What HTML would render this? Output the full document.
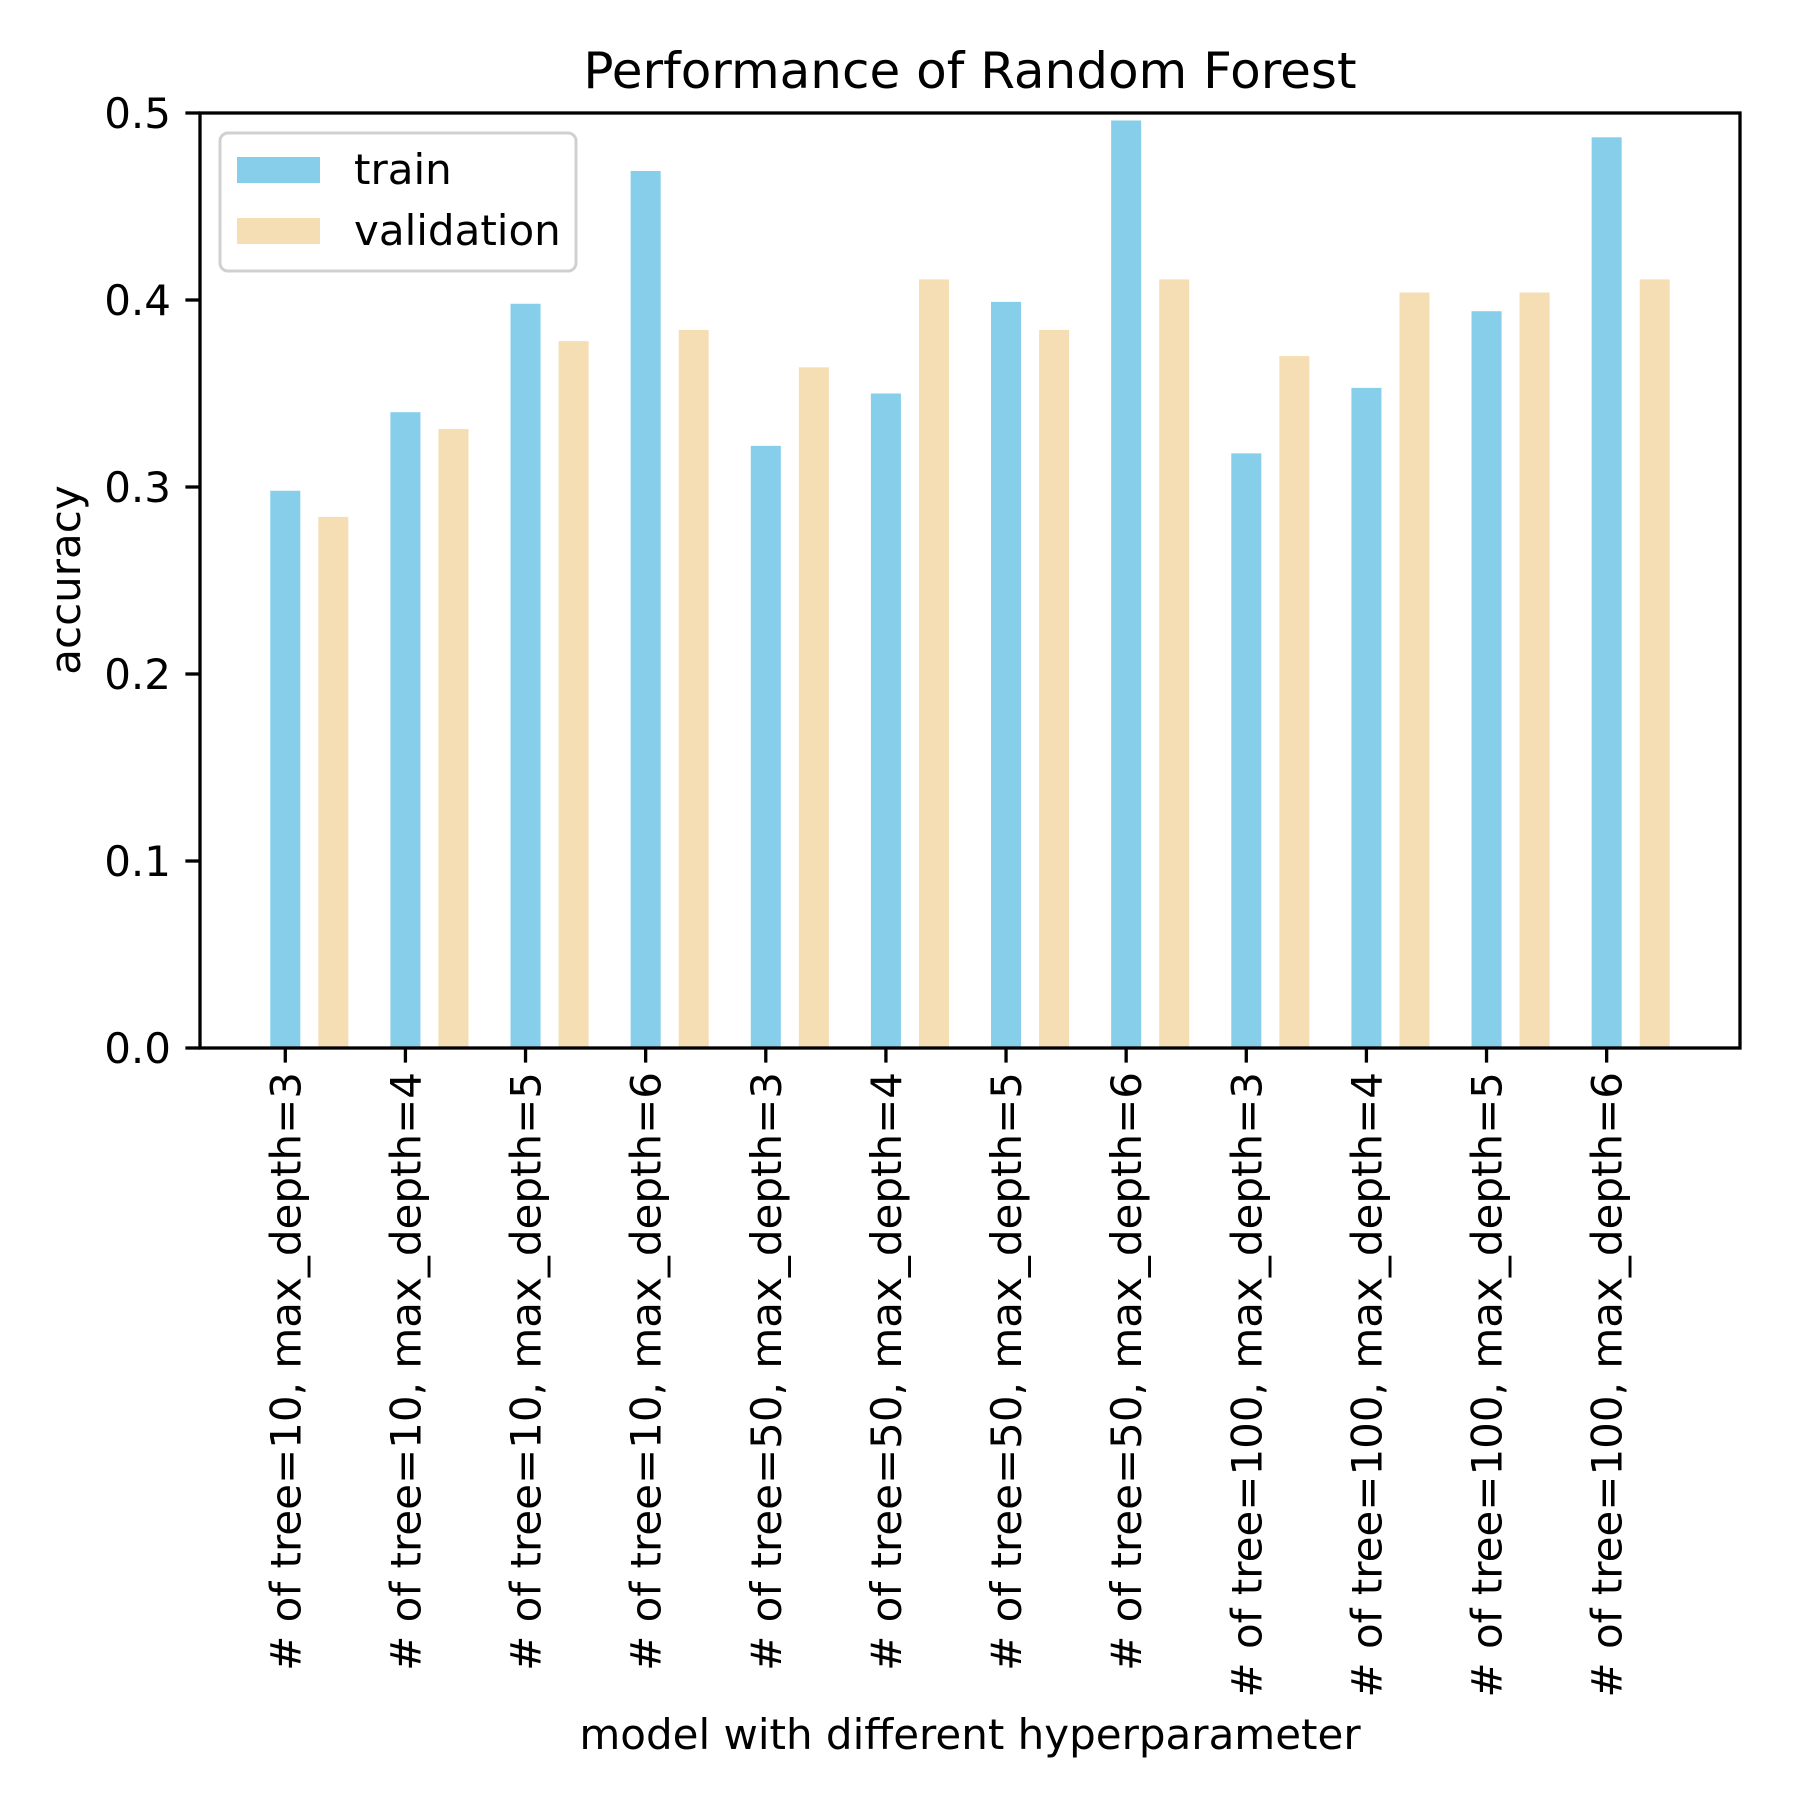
<!DOCTYPE html>
<html><head><meta charset="utf-8"><style>
html,body{margin:0;padding:0;background:#fff;}
svg{display:block;font-family:"DejaVu Sans","Liberation Sans",sans-serif;}
</style></head><body>
<svg id="chart" width="1800" height="1800" viewBox="0 0 1800 1800" xmlns="http://www.w3.org/2000/svg">
<rect width="1800" height="1800" fill="#fff"/>
<text x="970" y="88" font-size="50" text-anchor="middle">Performance of Random Forest</text>
<g id="bars"></g>
<g id="axes"></g>
<g>
<rect x="220" y="133" width="356" height="138" rx="8" fill="#fff" fill-opacity="0.8" stroke="#d0d0d0" stroke-width="3"/>
<rect x="237" y="157" width="83" height="26" fill="#87CEEB"/>
<text x="354" y="184" font-size="42">train</text>
<rect x="237" y="218" width="83" height="26" fill="#F5DEB3"/>
<text x="354" y="245" font-size="42">validation</text>
</g>
<text transform="translate(80,580) rotate(-90)" font-size="42" text-anchor="middle">accuracy</text>
<text x="970" y="1749" font-size="42" text-anchor="middle">model with different hyperparameter</text>
</svg>
<script>
const categories = ["# of tree=10, max_depth=3","# of tree=10, max_depth=4","# of tree=10, max_depth=5","# of tree=10, max_depth=6","# of tree=50, max_depth=3","# of tree=50, max_depth=4","# of tree=50, max_depth=5","# of tree=50, max_depth=6","# of tree=100, max_depth=3","# of tree=100, max_depth=4","# of tree=100, max_depth=5","# of tree=100, max_depth=6"];
const trainValues = [0.298,0.340,0.398,0.469,0.322,0.350,0.399,0.496,0.318,0.353,0.394,0.487];
const validationValues = [0.284,0.331,0.378,0.384,0.364,0.411,0.384,0.411,0.370,0.404,0.404,0.411];
const yTicks = [0.0,0.1,0.2,0.3,0.4,0.5];
const yTickLabels = ["0.0","0.1","0.2","0.3","0.4","0.5"];

const NS="http://www.w3.org/2000/svg";
const L=200,R=1740,T=113,B=1048;
const xMin=-0.71,xMax=12.11,yMin=0,yMax=0.5;
function xs(v){return L+(v-xMin)/(xMax-xMin)*(R-L);}
function ys(v){return B-(v-yMin)/(yMax-yMin)*(B-T);}
function mk(tag,attrs,parent){const e=document.createElementNS(NS,tag);for(const k in attrs)e.setAttribute(k,attrs[k]);parent.appendChild(e);return e;}
const bars=document.getElementById('bars'),axes=document.getElementById('axes');
const bw=0.25,off=0.4;
categories.forEach((c,i)=>{
  let x0=xs(i-bw/2),x1=xs(i+bw/2);
  const b1=mk('rect',{x:x0,y:ys(trainValues[i]),width:x1-x0,height:ys(0)-ys(trainValues[i]),fill:'#87CEEB'},bars);
  
  
  x0=xs(i+off-bw/2);x1=xs(i+off+bw/2);
  const b2=mk('rect',{x:x0,y:ys(validationValues[i]),width:x1-x0,height:ys(0)-ys(validationValues[i]),fill:'#F5DEB3'},bars);
  
  
  const tx=xs(i);
  const tk=mk('line',{x1:tx,x2:tx,y1:B,y2:B+14.6,stroke:'#000','stroke-width':3.3},axes);
  
  
  const t=mk('text',{transform:'translate('+(tx+15)+','+(B+24)+') rotate(-90)','font-size':42,'text-anchor':'end'},axes);
  t.textContent=c;
  
  
});
yTicks.forEach((v,i)=>{
  const y=ys(v);
  const tk=mk('line',{x1:L-14.6,x2:L,y1:y,y2:y,stroke:'#000','stroke-width':3.3},axes);
  
  
  const t=mk('text',{x:L-29,y:y+15,'font-size':42,'text-anchor':'end'},axes);
  t.textContent=yTickLabels[i];
  
  
});
const frame=mk('rect',{x:L,y:T,width:R-L,height:B-T,fill:'none',stroke:'#000','stroke-width':3.3},axes);


</script>
</body></html>
